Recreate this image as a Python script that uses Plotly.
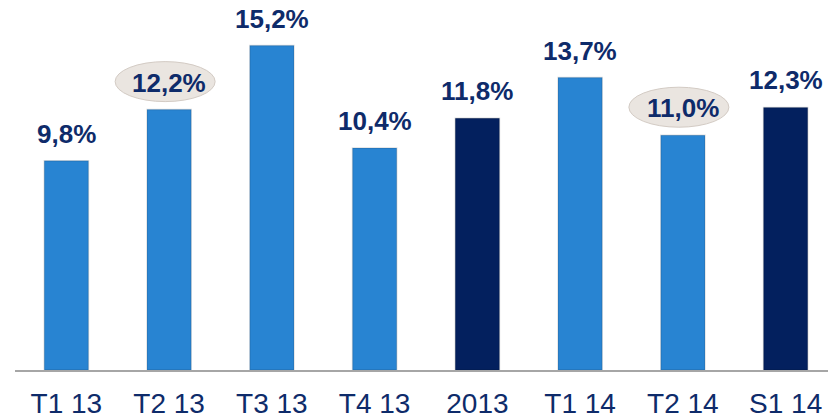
import plotly.graph_objects as go

# Data
categories = ["T1 13", "T2 13", "T3 13", "T4 13", "2013", "T1 14", "T2 14", "S1 14"]
values = [9.8, 12.2, 15.2, 10.4, 11.8, 13.7, 11.0, 12.3]
labels = ["9,8%", "12,2%", "15,2%", "10,4%", "11,8%", "13,7%", "11,0%", "12,3%"]
is_total = [False, False, False, False, True, False, False, True]
highlighted = ["T2 13", "T2 14"]

LIGHT = "#2884D2"
DARK = "#03205E"
TEXT = "#0E2B6A"

colors = [DARK if t else LIGHT for t in is_total]

fig = go.Figure(go.Bar(
    x=categories,
    y=values,
    marker=dict(color=colors, line=dict(color="rgba(0,0,0,0.13)", width=1.5)),
    width=0.43,
    hoverinfo="skip",
))

# ellipses behind highlighted labels
for cat in highlighted:
    i = categories.index(cat)
    fig.add_shape(
        type="circle", xref="x", yref="y",
        xsizemode="pixel", ysizemode="pixel",
        xanchor=i, yanchor=values[i],
        x0=-54, x1=46, y0=8, y1=48,
        fillcolor="#EAE5E0", line=dict(color="#D3CBC4", width=1),
        layer="below",
    )

# value labels
for i, (v, lab) in enumerate(zip(values, labels)):
    fig.add_annotation(
        x=i, y=v, text="<b>%s</b>" % lab, showarrow=False,
        yanchor="middle", yshift=27,
        font=dict(family="Liberation Sans, Arial", size=26, color=TEXT),
    )

# page body has an 8px margin, so offsets are compensated here
fig.update_layout(
    width=836, height=417,
    margin=dict(l=7, r=7, t=0, b=55),
    paper_bgcolor="white", plot_bgcolor="white",
    showlegend=False,
    bargap=0.58,
    xaxis=dict(
        type="category", automargin=False,
        showline=True, linecolor="#A6A6A6", linewidth=2,
        showgrid=False, ticks="outside", ticklen=7, tickcolor="white",
        tickfont=dict(family="Liberation Sans, Arial", size=28, color=TEXT),
        fixedrange=True,
    ),
    yaxis=dict(
        range=[0, 16.96], visible=False, showgrid=False, fixedrange=True,
    ),
)

fig.write_html("out.html")
